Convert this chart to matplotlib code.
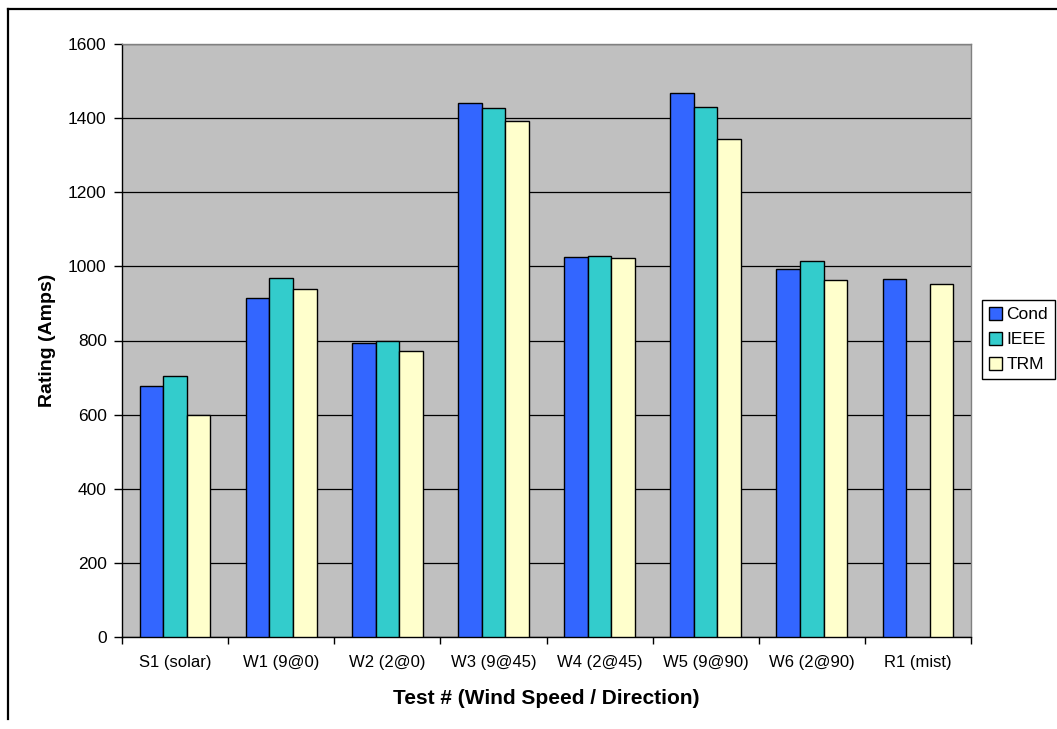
import numpy as np
import matplotlib
matplotlib.use("Agg")
import matplotlib.pyplot as plt
from matplotlib.lines import Line2D
from matplotlib.ticker import MultipleLocator, FixedLocator

plt.rcParams['font.family'] = ['Liberation Sans', 'DejaVu Sans']

categories = ["S1 (solar)", "W1 (9@0)", "W2 (2@0)", "W3 (9@45)", "W4 (2@45)",
              "W5 (9@90)", "W6 (2@90)", "R1 (mist)"]
cond = [677, 916, 793, 1441, 1025, 1469, 992, 967]
ieee = [704, 968, 800, 1427, 1027, 1431, 1014, np.nan]
trm = [600, 938, 771, 1392, 1023, 1345, 962, 952]
series_names = ["Cond", "IEEE", "TRM"]
colors = ["#3366FF", "#33CCCC", "#FFFFCC"]

W, H = 1057, 729
fig = plt.figure(figsize=(W / 100, H / 100), dpi=100)
fig.patch.set_facecolor("white")
ax = fig.add_axes([122 / W, 1 - 637 / H, (971 - 122) / W, (637 - 44) / H])
ax.set_facecolor("#C0C0C0")

x = np.arange(len(categories))
bw = 1 / 4.5
data = [cond, ieee, trm]
handles = []
for i, (vals, col, name) in enumerate(zip(data, colors, series_names)):
    b = ax.bar(x + (i - 1) * bw, vals, width=bw, color=col, edgecolor="black",
               linewidth=1.0, label=name, zorder=3)
    handles.append(b)

ax.set_xlim(-0.5, len(categories) - 0.5)
ax.set_ylim(0, 1600)
ax.yaxis.set_major_locator(MultipleLocator(200))
ax.grid(axis="y", color="black", linewidth=0.9, zorder=1)
ax.set_axisbelow(True)

ax.set_xticks(x)
ax.set_xticklabels(categories, fontsize=12)
ax.xaxis.set_minor_locator(FixedLocator(np.arange(-0.5, len(categories), 1.0)))
ax.tick_params(axis="x", which="major", length=0, pad=13)
ax.tick_params(axis="x", which="minor", length=5, width=1, direction="out", color="black")
ax.tick_params(axis="y", which="major", length=6, width=1, direction="out", pad=5, labelsize=12.5)

for s in ["left", "bottom"]:
    ax.spines[s].set_color("black")
    ax.spines[s].set_linewidth(1.0)
for s in ["top", "right"]:
    ax.spines[s].set_color("#808080")
    ax.spines[s].set_linewidth(1.0)

ax.set_ylabel("Rating (Amps)", fontsize=14, fontweight="bold", labelpad=9)
ax.set_xlabel("Test # (Wind Speed / Direction)", fontsize=15, fontweight="bold", labelpad=14)

leg = fig.legend(handles=handles, labels=series_names, loc="upper left",
                 bbox_to_anchor=(982 / W, 1 - 300 / H), fontsize=12.5,
                 frameon=True, fancybox=False, framealpha=1, edgecolor="black",
                 handlelength=0.75, handleheight=0.75, handletextpad=0.25,
                 borderpad=0.4, labelspacing=0.55, borderaxespad=0)
leg.get_frame().set_linewidth(1.0)

# outer chart border (top and left visible)
fig.add_artist(Line2D([7.5 / W, 1.0], [1 - 8.5 / H, 1 - 8.5 / H], transform=fig.transFigure,
                      color="black", linewidth=1.6))
fig.add_artist(Line2D([7.5 / W, 7.5 / W], [1 - 8.5 / H, 1 - 719 / H], transform=fig.transFigure,
                      color="black", linewidth=1.6))

fig.savefig("out.png", dpi=100, facecolor="white")
